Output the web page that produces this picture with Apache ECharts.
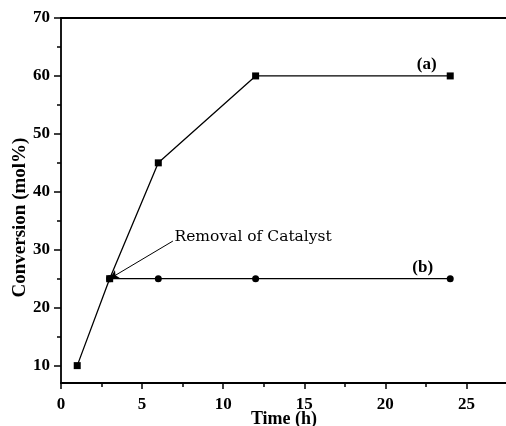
<!DOCTYPE html>
<html>
<head>
<meta charset="utf-8">
<script src="https://cdn.jsdelivr.net/npm/echarts@6/dist/echarts.min.js"></script>
<style>html,body{margin:0;padding:0;background:#fff}#c{width:506px;height:426px}</style>
</head>
<body>
<div id="c"></div>
<script>
// Data
const seriesA_x = [1, 3, 6, 12, 24];
const seriesA_y = [10, 25, 45, 60, 60];
const seriesB_x = [3, 6, 12, 24];
const seriesB_y = [25, 25, 25, 25];
const xTickLabels = [0, 5, 10, 15, 20, 25];
const xMinorTicks = [2.5, 7.5, 12.5, 17.5, 22.5];
const yTickLabels = [10, 20, 30, 40, 50, 60, 70];
const yMinorTicks = [15, 25, 35, 45, 55, 65];
const labelA = {text: '(a)', at: [22.55, 62.0]};
const labelB = {text: '(b)', at: [22.3, 26.9]};
const annotation = {text: 'Removal of Catalyst', at: [7.0, 32.2], arrowFrom: [6.9, 31.5], arrowTo: [3, 25]};

const FONT = 'Liberation Serif';
const X_MIN = 0, X_MAX = 27.5, Y_MIN = 7, Y_MAX = 70;

const chart = echarts.init(document.getElementById('c'), null, {renderer: 'canvas'});
const axisLine = {show: true, lineStyle: {color: '#000', width: 1.8}};
const lblStyle = {color: '#000', fontFamily: FONT, fontWeight: 'bold', fontSize: 17};

chart.setOption({
  animation: false,
  backgroundColor: '#fff',
  grid: {left: 61, top: 18, bottom: 43, right: -1, containLabel: false, outerBoundsMode: 'none'},
  xAxis: [
    {type: 'value', min: X_MIN, max: X_MAX, position: 'bottom',
     name: 'Time (h)', nameLocation: 'middle', nameGap: 27, nameMoveOverlap: false,
     nameTextStyle: {color: '#000', fontFamily: FONT, fontWeight: 'bold', fontSize: 18},
     axisLine: axisLine,
     axisTick: {show: true, inside: false, length: 6, customValues: xTickLabels, lineStyle: {color: '#000', width: 1.5}},
     axisLabel: Object.assign({show: true, margin: 13, customValues: xTickLabels}, lblStyle),
     splitLine: {show: false}},
    {type: 'value', min: X_MIN, max: X_MAX, position: 'bottom',
     axisLine: {show: false},
     axisTick: {show: true, inside: false, length: 4, customValues: xMinorTicks, lineStyle: {color: '#000', width: 1.5}},
     axisLabel: {show: false}, splitLine: {show: false}},
    {type: 'value', min: X_MIN, max: X_MAX, position: 'top',
     axisLine: axisLine, axisTick: {show: false}, axisLabel: {show: false}, splitLine: {show: false}}
  ],
  yAxis: [
    {type: 'value', min: Y_MIN, max: Y_MAX, position: 'left',
     name: 'Conversion (mol%)', nameLocation: 'middle', nameGap: 31, nameRotate: 90, nameMoveOverlap: false,
     nameTextStyle: {color: '#000', fontFamily: FONT, fontWeight: 'bold', fontSize: 19, padding: [0, 34, 0, 0]},
     axisLine: axisLine,
     axisTick: {show: true, inside: false, length: 7, customValues: yTickLabels, lineStyle: {color: '#000', width: 1.5}},
     axisLabel: Object.assign({show: true, margin: 11, customValues: yTickLabels}, lblStyle),
     splitLine: {show: false}},
    {type: 'value', min: Y_MIN, max: Y_MAX, position: 'left',
     axisLine: {show: false},
     axisTick: {show: true, inside: false, length: 4, customValues: yMinorTicks, lineStyle: {color: '#000', width: 1.5}},
     axisLabel: {show: false}, splitLine: {show: false}}
  ],
  series: [
    {name: '(b)', type: 'line', xAxisIndex: 0, yAxisIndex: 0,
     data: seriesB_x.map((x, i) => [x, seriesB_y[i]]),
     symbol: 'circle', symbolSize: 7,
     lineStyle: {color: '#000', width: 1.3}, itemStyle: {color: '#000'},
     markLine: {silent: true, symbol: ['none', 'arrow'], symbolSize: [7, 9], animation: false,
       lineStyle: {color: '#000', width: 1, type: 'solid'}, label: {show: false},
       data: [[{coord: annotation.arrowFrom}, {coord: annotation.arrowTo}]]},
     markPoint: {silent: true, symbol: 'circle', symbolSize: 0, animation: false,
       data: [
         {coord: annotation.at, label: {show: true, position: 'right', distance: 0, formatter: annotation.text, color: '#000', fontFamily: 'DejaVu Serif', fontSize: 15.5}},
         {coord: labelA.at, label: {show: true, position: 'inside', formatter: labelA.text, color: '#000', fontFamily: FONT, fontWeight: 'bold', fontSize: 17}},
         {coord: labelB.at, label: {show: true, position: 'inside', formatter: labelB.text, color: '#000', fontFamily: FONT, fontWeight: 'bold', fontSize: 17}}
       ]}},
    {name: '(a)', type: 'line', xAxisIndex: 0, yAxisIndex: 0,
     data: seriesA_x.map((x, i) => [x, seriesA_y[i]]),
     symbol: 'rect', symbolSize: 7,
     lineStyle: {color: '#000', width: 1.3}, itemStyle: {color: '#000'}}
  ]
});
</script>
</body>
</html>
